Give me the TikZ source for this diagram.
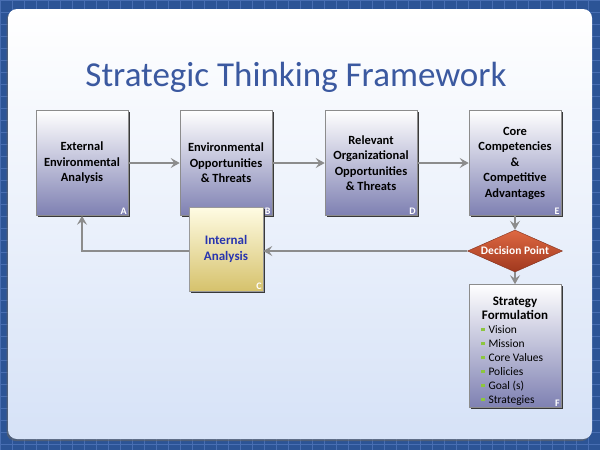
\documentclass[tikz,border=0pt]{standalone}
\usepackage{fontspec}
\setmainfont{Carlito}
\usepackage{xcolor}
\usetikzlibrary{shapes.geometric, arrows.meta, positioning, shadows, calc}

\definecolor{slideblue}{RGB}{44,84,150}
\definecolor{gridblue}{RGB}{72,110,178}
\definecolor{panelbottom}{RGB}{214,226,247}
\definecolor{titleblue}{RGB}{59,89,160}
\definecolor{boxbottom}{RGB}{126,128,178}
\definecolor{goldtop}{RGB}{255,252,228}
\definecolor{goldbottom}{RGB}{214,194,108}
\definecolor{innerblue}{RGB}{40,52,175}
\definecolor{dectop}{RGB}{222,104,66}
\definecolor{decbottom}{RGB}{160,56,30}
\definecolor{bulletgreen}{RGB}{140,198,63}
\definecolor{arrowgray}{RGB}{140,140,140}

\newcommand{\bul}{{\color{bulletgreen}\rule[2pt]{3.5pt}{3.5pt}}\hspace{4pt}}

\begin{document}
\begin{tikzpicture}[
    x=1pt, y=-1pt,
    box/.style={draw=black!45, line width=0.6pt, top color=white, bottom color=boxbottom,
        minimum width=92pt, minimum height=105pt, align=center, inner sep=2pt,
        font=\bfseries\fontsize{12.5}{15.5}\selectfont,
        drop shadow={shadow xshift=1.6pt, shadow yshift=-1.6pt, fill=black!85, opacity=0.9}},
    tag/.style={anchor=south east, inner sep=1.5pt, text=white, font=\bfseries\fontsize{10}{10}\selectfont},
    arrow/.style={-{Stealth[length=9pt, width=10pt, inset=3.5pt]}, line width=2pt, draw=arrowgray}
]
    \useasboundingbox (0,0) rectangle (600,450);

    % Slide background
    \fill[slideblue] (0,0) rectangle (600,450);
    \draw[gridblue, line width=0.5pt, step=12pt] (0,0) grid (600,450);
    \shade[top color=white, bottom color=panelbottom, rounded corners=9pt,
        drop shadow={shadow xshift=-1.5pt, shadow yshift=-2pt, fill=black!60, opacity=0.6}]
        (8,9) rectangle (592,439);

    % Title
    \node[text=titleblue, anchor=base, font=\fontsize{35}{40}\selectfont] (title) at (296,86)
        {Strategic Thinking Framework};

    % Top row
    \node[box] (ext) at (82,163) {External\\Environmental\\Analysis};
    \node[box] (envop) at (226,163) {Environmental\\Opportunities\\\& Threats};
    \node[box] (relop) at (371,163) {Relevant\\Organizational\\Opportunities\\\& Threats};
    \node[box] (core) at (515,163) {Core\\Competencies\\\&\\Competitive\\Advantages};
    \node[tag] (ext-tag) at (ext.south east) {A};
    \node[tag] (envop-tag) at (envop.south east) {B};
    \node[tag] (relop-tag) at (relop.south east) {D};
    \node[tag] (core-tag) at (core.south east) {E};

    % Internal analysis
    \node[box, draw=black!40, top color=goldtop, bottom color=goldbottom, minimum width=74pt,
        minimum height=84pt, text=innerblue, font=\bfseries\fontsize{13}{16}\selectfont]
        (intern) at (226,249) {Internal\\Analysis};
    \node[tag] (intern-tag) at (intern.south east) {C};

    % Decision point
    \node[diamond, draw=decbottom!80!black, line width=0.4pt, top color=dectop, bottom color=decbottom,
        minimum width=95pt, minimum height=42pt, inner sep=0pt, aspect=2.3, text=white,
        font=\bfseries\fontsize{11.5}{12}\selectfont] (dec) at (515,251) {Decision Point};

    % Strategy formulation
    \node[box, minimum height=123pt, font=\fontsize{11.5}{14}\selectfont] (strat) at (515,346)
        {\begin{minipage}{84pt}
            \vspace*{10pt}
            \centering\bfseries\fontsize{13}{14}\selectfont Strategy\\Formulation\par
            \raggedright\mdseries\fontsize{11.5}{14}\selectfont\hspace{8pt}%
            \bul Vision\\\hspace{8pt}\bul Mission\\\hspace{8pt}\bul Core Values\\
            \hspace{8pt}\bul Policies\\\hspace{8pt}\bul Goal (s)\\\hspace{8pt}\bul Strategies
        \end{minipage}};
    \node[tag] (strat-tag) at (strat.south east) {F};

    % Connectors
    \draw[arrow] (ext.east) -- (envop.west);
    \draw[arrow] (envop.east) -- (relop.west);
    \draw[arrow] (relop.east) -- (core.west);
    \draw[arrow] (core.south) -- (dec.north);
    \draw[arrow] (dec.south) -- (strat.north);
    \draw[arrow] (dec.west) -- (dec.west -| intern.east);
    \draw[arrow] (intern.west |- dec.west) -| (ext.south);
\end{tikzpicture}
\end{document}
